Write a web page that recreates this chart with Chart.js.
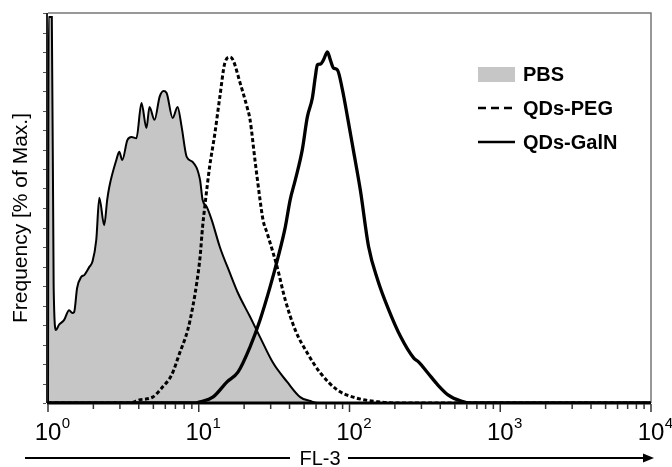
<!DOCTYPE html>
<html>
<head>
<meta charset="utf-8">
<script src="https://cdn.jsdelivr.net/npm/chart.js@4"></script>
<style>body{margin:0;background:#fff}</style>
</head>
<body>
<canvas id="c" width="672" height="467"></canvas>
<script>
// FL-3 intensity (x) and frequency as % of max (y)
const pbsX = [1.0, 1.01, 1.06, 1.09, 1.13, 1.18, 1.28, 1.38, 1.45, 1.49, 1.56, 1.66, 1.74, 1.88, 1.97, 2.09, 2.19, 2.36, 2.47, 2.55, 2.84, 2.97, 3.11, 3.36, 3.58, 3.86, 4.17, 4.50, 4.71, 5.09, 5.50, 5.84, 6.12, 6.71, 7.24, 7.70, 8.32, 9.12, 10.2, 10.6, 11.3, 12.2, 13.8, 16.1, 18.2, 21.9, 25.5, 31.1, 38.6, 47.1, 55.0, 62.1, 10000]
const pbsY = [0, 99, 99, 30, 18.7, 20.0, 21.3, 23.8, 23.1, 23.3, 29.5, 32.3, 32.8, 34.9, 36.2, 41.8, 52.6, 45.6, 52.1, 55.4, 62.3, 64.4, 62.3, 67.4, 68.2, 67.9, 76.9, 70.5, 75.9, 72.6, 78.5, 80.0, 79.5, 73.1, 75.9, 70.8, 63.1, 61.8, 57.2, 52.1, 50.3, 46.9, 40.0, 33.3, 28.2, 22.1, 16.9, 10.3, 5.4, 1.5, 0.5, 0, 0]

const pegX = [1, 3.47, 4.04, 4.94, 5.75, 6.61, 7.47, 8.45, 9.12, 9.70, 10.2, 10.6, 11.0, 11.8, 12.8, 13.8, 14.9, 16.1, 16.9, 18.8, 20.9, 21.9, 23.6, 25.5, 26.7, 28.4, 33.1, 37.5, 43.7, 52.5, 64.1, 83.2, 106, 154, 219, 10000]
const pegY = [0, 0, 0.8, 1.5, 4.1, 7.2, 12.8, 18.7, 24.6, 30.8, 37.4, 45.1, 50.8, 60.5, 69.2, 78.5, 87.2, 88.7, 87.9, 82.1, 75.9, 72.6, 62.3, 52.1, 46.9, 43.6, 34.9, 26.4, 18.7, 12.8, 7.7, 3.3, 1.5, 0.3, 0, 0]

const galnX = [1, 9.40, 10.2, 12.4, 15.4, 18.2, 21.9, 25.5, 29.7, 33.6, 37.5, 40.4, 43.7, 48.6, 52.5, 56.7, 59.3, 61.2, 64.1, 67.1, 71.4, 74.7, 78.2, 83.2, 89.8, 97.0, 106, 118, 134, 154, 179, 219, 267, 288, 331, 386, 450, 550, 641, 10000]
const galnY = [0, 0, 0.3, 1.5, 5.4, 7.9, 14.4, 21.3, 29.7, 37.4, 45.1, 52.1, 57.2, 64.9, 73.3, 78.2, 83.6, 86.7, 86.9, 87.9, 90.0, 87.9, 85.9, 85.4, 80.3, 73.3, 64.9, 54.6, 40.0, 31.5, 24.6, 16.9, 11.5, 10.5, 7.7, 4.6, 2.1, 0.5, 0, 0]

const seriesNames = ['PBS', 'QDs-PEG', 'QDs-GalN']
const xTickExponents = [0, 1, 2, 3, 4]
const yTickStep = 5

const pts = (xs, ys) => xs.map((v, i) => ({x: v, y: ys[i]}))
const FONT = '"Liberation Sans", Arial, sans-serif'

const decorations = {
  id: 'decorations',
  afterDraw(chart){
    const ctx = chart.ctx, a = chart.chartArea
    const sx = chart.scales.x, sy = chart.scales.y
    ctx.save()

    // box
    ctx.strokeStyle = '#777'
    ctx.lineWidth = 1.5
    ctx.beginPath()
    ctx.moveTo(a.left, a.top); ctx.lineTo(a.right, a.top); ctx.lineTo(a.right, a.bottom)
    ctx.stroke()
    ctx.strokeStyle = '#222'
    ctx.lineWidth = 2
    ctx.beginPath(); ctx.moveTo(a.left - 1, a.top); ctx.lineTo(a.left - 1, a.bottom); ctx.stroke()
    ctx.strokeStyle = '#000'
    ctx.lineWidth = 3
    ctx.beginPath(); ctx.moveTo(a.left - 1, a.bottom); ctx.lineTo(a.right, a.bottom); ctx.stroke()

    // y ticks (small, left side)
    ctx.strokeStyle = '#555'
    ctx.lineWidth = 1
    for (let v = 0; v <= 100; v += yTickStep){
      const py = Math.round(sy.getPixelForValue(v)) + 0.5
      ctx.beginPath(); ctx.moveTo(a.left - 5, py); ctx.lineTo(a.left - 2, py); ctx.stroke()
    }

    // x ticks: decades + minors
    ctx.strokeStyle = '#333'
    ctx.lineWidth = 1.5
    xTickExponents.forEach(e => {
      for (let m = 1; m < 10; m++){
        if (e === 4 && m > 1) break
        const px = sx.getPixelForValue(m * 10 ** e)
        const len = m === 1 ? 8 : 5
        ctx.beginPath(); ctx.moveTo(px, a.bottom + 1); ctx.lineTo(px, a.bottom + 1 + len); ctx.stroke()
      }
    })

    // x tick labels 10^n
    ctx.fillStyle = '#000'
    ctx.textBaseline = 'alphabetic'
    xTickExponents.forEach(e => {
      const px = sx.getPixelForValue(10 ** e)
      ctx.font = '24px ' + FONT
      ctx.textAlign = 'center'
      ctx.fillText('10', px, 440)
      const w = ctx.measureText('10').width
      ctx.font = '15px ' + FONT
      ctx.textAlign = 'left'
      ctx.fillText(String(e), px + w / 2 + 0.5, 428)
    })

    // x title with arrow
    ctx.font = '20px ' + FONT
    ctx.textAlign = 'center'
    ctx.fillText('FL-3', 320, 465)
    ctx.strokeStyle = '#000'
    ctx.lineWidth = 2
    ctx.beginPath()
    ctx.moveTo(25, 458); ctx.lineTo(290, 458)
    ctx.moveTo(348, 458); ctx.lineTo(644, 458)
    ctx.stroke()
    ctx.beginPath()
    ctx.moveTo(654, 458); ctx.lineTo(643, 453.5); ctx.lineTo(643, 462.5); ctx.closePath()
    ctx.fill()

    // y title
    ctx.save()
    ctx.translate(27, 218)
    ctx.rotate(-Math.PI / 2)
    ctx.font = '21px ' + FONT
    ctx.textAlign = 'center'
    ctx.fillText('Frequency [% of Max.]', 0, 0)
    ctx.restore()

    // legend
    const ds = chart.data.datasets
    const lx = 478, lw = 37, tx = 523
    const rows = [74.5, 108, 142]
    ctx.font = 'bold 20px ' + FONT
    ctx.textAlign = 'left'
    ctx.textBaseline = 'middle'
    ds.forEach((d, i) => {
      const cy = rows[i]
      if (d.fill){
        ctx.fillStyle = d.backgroundColor
        ctx.fillRect(lx, cy - 7.5, lw, 15)
      } else {
        ctx.strokeStyle = d.borderColor
        ctx.lineWidth = 2.5
        ctx.setLineDash(d.borderDash ? [8, 5] : [])
        ctx.beginPath(); ctx.moveTo(lx, cy); ctx.lineTo(lx + lw, cy); ctx.stroke()
        ctx.setLineDash([])
      }
      ctx.fillStyle = '#000'
      ctx.fillText(d.label, tx, cy + 1)
    })
    ctx.restore()
  }
}

new Chart(document.getElementById('c'), {
  type: 'line',
  data: {
    datasets: [{
      label: seriesNames[0],
      data: pts(pbsX, pbsY),
      borderColor: '#000',
      backgroundColor: '#c6c6c6',
      borderWidth: 2,
      fill: 'origin',
      order: 3
    }, {
      label: seriesNames[1],
      data: pts(pegX, pegY),
      borderColor: '#000',
      borderWidth: 3,
      borderDash: [4, 2.5],
      fill: false,
      order: 2
    }, {
      label: seriesNames[2],
      data: pts(galnX, galnY),
      borderColor: '#000',
      borderWidth: 3.3,
      fill: false,
      order: 1
    }]
  },
  options: {
    responsive: false,
    animation: false,
    devicePixelRatio: 1,
    layout: {padding: {left: 48, right: 21, top: 13, bottom: 64}},
    elements: {
      point: {radius: 0},
      line: {cubicInterpolationMode: 'monotone'}
    },
    plugins: {legend: {display: false}, tooltip: {enabled: false}},
    scales: {
      x: {type: 'logarithmic', min: 1, max: 10000, display: false},
      y: {type: 'linear', min: 0, max: 100, display: false}
    }
  },
  plugins: [decorations]
});
</script>
</body>
</html>
